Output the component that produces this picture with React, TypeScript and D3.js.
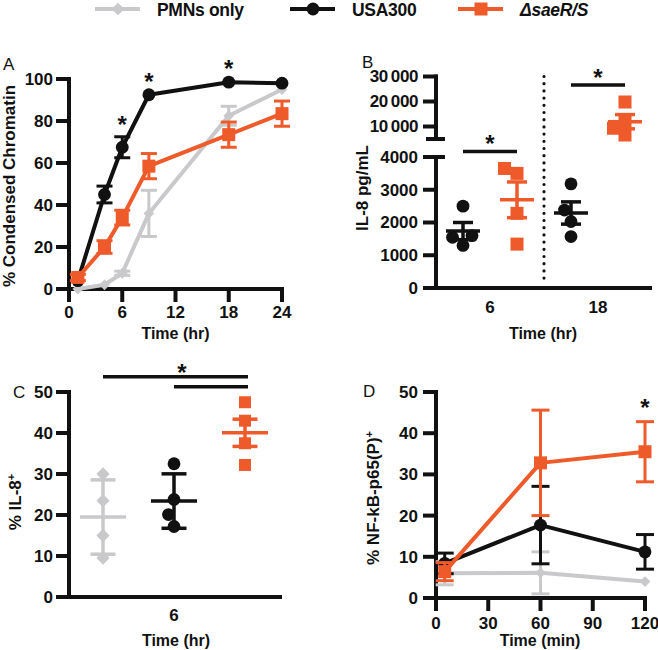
import React from "react";
import * as d3 from "d3";

// ---------- colours / fonts ----------
const ORANGE = "#ee5a2a";
const GRAY = "#c9c9cb";
const BLACK = "#111111";
const FONT = "'Liberation Sans', Arial, Helvetica, sans-serif";

// ---------- legend ----------
const seriesKeys = ["pmn", "usa", "sae"];
const seriesNames = ["PMNs only", "USA300", "\u0394saeR/S"];

// ---------- panel A ----------
const timesA = [1, 4, 6, 9, 18, 24];
const pmnA = [0, 2, 7.5, 36, 82.5, 95];
const pmnErrA = [0, 0.5, 1, 11, 4.5, 0];
const usaA = [4, 45, 67.5, 92.5, 98.5, 98];
const usaErrA = [0, 4, 5, 0.5, 0.5, 0];
const saeA = [5.5, 20, 34, 58.5, 73.5, 83.5];
const saeErrA = [1.5, 3, 3.5, 6, 6, 6];
const starsA = [6, 9, 18];
const xTicksA = [0, 6, 12, 18, 24];
const yTicksA = [0, 20, 40, 60, 80, 100];

// ---------- panel B ----------
const timeLabelsB = ["6", "18"];
const b6Usa = [2500, 1550, 1300, 1600];
const b6Sae = [3500, 3650, 2280, 1340];
const b18Usa = [3180, 2380, 2030, 1570];
const b18Sae = [19800, 12000, 9300, 6600];
const yTicksBLow = [0, 1000, 2000, 3000, 4000];
const yTicksBHigh = [10000, 20000, 30000];

// ---------- panel C ----------
const cPmn = [30, 23.5, 15, 9.5];
const cUsa = [32.5, 23.8, 20.1, 17.2];
const cSae = [47.5, 43, 37.5, 32.2];
const cErrType = ["sd", "sd", "sem"];
const yTicksC = [0, 10, 20, 30, 40, 50];

// ---------- panel D ----------
const timesD = [5, 60, 120];
const pmnD = [6, 6.1, 4];
const pmnErrD = [2.8, 5.1, 0];
const usaD = [8.4, 17.7, 11.2];
const usaErrD = [2.5, 9.4, 4.2];
const saeD = [6.4, 32.8, 35.5];
const saeErrD = [2.2, 12.8, 7.3];
const starsD = [120];
const xTicksD = [0, 30, 60, 90, 120];
const yTicksD = [0, 10, 20, 30, 40, 50];

// ---------- helpers ----------
const colorOf: Record<string, string> = { pmn: GRAY, usa: BLACK, sae: ORANGE };

function Marker({ kind, x, y, scale = 1 }: { kind: string; x: number; y: number; scale?: number }) {
  if (kind === "usa") {
    return <circle cx={x} cy={y} r={6.4 * scale} fill={BLACK} />;
  }
  if (kind === "sae") {
    const s = 13 * scale;
    return <rect x={x - s / 2} y={y - s / 2} width={s} height={s} fill={ORANGE} />;
  }
  const d = d3.symbol().type(d3.symbolSquare).size(80 * scale * scale)() as string;
  return <path d={d} transform={`translate(${x},${y}) rotate(45)`} fill={GRAY} />;
}

function ErrBar({ x, y0, y1, w, color, sw = 3 }: { x: number; y0: number; y1: number; w: number; color: string; sw?: number }) {
  return (
    <g stroke={color} strokeWidth={sw} fill="none">
      <line x1={x} x2={x} y1={y0} y2={y1} />
      <line x1={x - w} x2={x + w} y1={y0} y2={y0} />
      <line x1={x - w} x2={x + w} y1={y1} y2={y1} />
    </g>
  );
}

function Star({ x, y }: { x: number; y: number }) {
  const fs = 24;
  return (
    <text x={x} y={y + 0.58 * fs} fontSize={fs} fontWeight="bold" textAnchor="middle" fill={BLACK}>
      *
    </text>
  );
}

function dodge(ys: number[], minDist: number): number[] {
  const idx = ys.map((_, i) => i).sort((a, b) => ys[b] - ys[a]);
  const placed: { x: number; y: number }[] = [];
  const out = new Array(ys.length).fill(0);
  for (const i of idx) {
    let dx = 0;
    for (let k = 0; k < 400; k++) {
      const step = Math.ceil(k / 2) * 0.5;
      const cand = k === 0 ? 0 : k % 2 === 1 ? -step : step;
      if (placed.every((p) => Math.hypot(p.x - cand, p.y - ys[i]) >= minDist)) {
        dx = cand;
        break;
      }
    }
    placed.push({ x: dx, y: ys[i] });
    out[i] = dx;
  }
  return out;
}

const AX = 4; // axis stroke width
const TICK = 11;

function Legend() {
  const xs = [95, 290, 458];
  const y = 9;
  return (
    <g>
      {seriesKeys.map((k, i) => (
        <g key={k}>
          <line x1={xs[i]} x2={xs[i] + 45} y1={y} y2={y} stroke={colorOf[k]} strokeWidth={4} />
          <Marker kind={k} x={xs[i] + 23} y={y} />
          <text
            x={xs[i] + 62}
            y={15.5}
            fontSize={17.5}
            fontWeight="bold"
            fontStyle={k === "sae" ? "italic" : "normal"}
            fill={BLACK}
            letterSpacing={-0.3}
          >
            {seriesNames[i]}
          </text>
        </g>
      ))}
    </g>
  );
}

function PanelA() {
  const x = d3.scaleLinear().domain([0, 24]).range([69, 282]);
  const y = d3.scaleLinear().domain([0, 100]).range([289, 79]);
  const series = [
    { key: "pmn", v: pmnA, e: pmnErrA },
    { key: "usa", v: usaA, e: usaErrA },
    { key: "sae", v: saeA, e: saeErrA },
  ];
  const line = d3
    .line<number>()
    .x((_, i) => x(timesA[i]))
    .y((d) => y(d));
  return (
    <g>
      <text x={3} y={70} fontSize={17} fill={BLACK}>A</text>
      <g stroke={BLACK} strokeWidth={AX} strokeLinecap="square">
        <line x1={x(0)} x2={x(0)} y1={y(100)} y2={y(0)} />
        <line x1={x(0)} x2={x(24)} y1={y(0)} y2={y(0)} />
        {yTicksA.map((t) => (
          <line key={"yt" + t} x1={x(0) - TICK} x2={x(0)} y1={y(t)} y2={y(t)} />
        ))}
        {xTicksA.map((t) => (
          <line key={"xt" + t} x1={x(t)} x2={x(t)} y1={y(0)} y2={y(0) + TICK} />
        ))}
      </g>
      {yTicksA.map((t) => (
        <text key={"yl" + t} x={53} y={y(t)} dy="0.35em" fontSize={17} fontWeight="bold" textAnchor="end" fill={BLACK}>
          {t}
        </text>
      ))}
      {xTicksA.map((t) => (
        <text key={"xl" + t} x={x(t)} y={312} dy="0.35em" fontSize={17} fontWeight="bold" textAnchor="middle" fill={BLACK}>
          {t}
        </text>
      ))}
      <text x={x(12)} y={339} fontSize={16} fontWeight="bold" textAnchor="middle" fill={BLACK}>
        Time (hr)
      </text>
      <text transform="translate(9,186) rotate(-90)" dy="0.35em" fontSize={17} fontWeight="bold" textAnchor="middle" fill={BLACK}>
        % Condensed Chromatin
      </text>
      {series.map((s) => (
        <g key={s.key}>
          <path d={line(s.v) as string} fill="none" stroke={colorOf[s.key]} strokeWidth={4} strokeLinejoin="round" />
          {s.v.map((v, i) =>
            s.e[i] > 0.6 ? (
              <ErrBar key={i} x={x(timesA[i])} y0={y(v - s.e[i])} y1={y(v + s.e[i])} w={8} color={colorOf[s.key]} />
            ) : null
          )}
          {s.v.map((v, i) => (
            <Marker key={"m" + i} kind={s.key} x={x(timesA[i])} y={y(v)} scale={s.key === "pmn" ? 0.85 : 1} />
          ))}
        </g>
      ))}
      {starsA.map((t) => {
        const i = timesA.indexOf(t);
        const top = d3.max(series, (s) => s.v[i] + s.e[i]) as number;
        return <Star key={t} x={x(t)} y={y(top) - 18} />;
      })}
    </g>
  );
}

function PanelB() {
  const groups = [
    { time: "6", key: "usa", vals: b6Usa },
    { time: "6", key: "sae", vals: b6Sae },
    { time: "18", key: "usa", vals: b18Usa },
    { time: "18", key: "sae", vals: b18Sae },
  ];
  const x = d3
    .scalePoint<number>()
    .domain(groups.map((_, i) => i))
    .range([463, 625]);
  const yLow = d3.scaleLinear().domain([0, 4000]).range([288, 157]);
  const yHigh = d3.scaleLinear().domain([5000, 30000]).range([139, 76.5]);
  const y = (v: number) => (v <= 4000 ? yLow(v) : yHigh(v));
  const ax = 436;
  const fmt = (v: number) => (v >= 10000 ? d3.format(",")(v).replace(",", "\u2009") : String(v));
  const divX = ((x(1) as number) + (x(2) as number)) / 2;
  return (
    <g>
      <text x={362} y={68} fontSize={17} fill={BLACK}>B</text>
      <g stroke={BLACK} strokeWidth={AX} strokeLinecap="square">
        <line x1={ax} x2={ax} y1={yHigh(30000)} y2={yHigh(5000)} />
        <line x1={ax} x2={ax} y1={yLow(4000)} y2={yLow(0)} />
        <line x1={ax} x2={650} y1={yLow(0)} y2={yLow(0)} />
        {yTicksBLow.map((t) => (
          <line key={"l" + t} x1={ax - TICK} x2={ax} y1={yLow(t)} y2={yLow(t)} />
        ))}
        {yTicksBHigh.map((t) => (
          <line key={"h" + t} x1={ax - TICK} x2={ax} y1={yHigh(t)} y2={yHigh(t)} />
        ))}
        <line x1={ax - 8} x2={ax + 7} y1={yHigh(5000)} y2={yHigh(5000)} />
        <line x1={ax - 8} x2={ax + 7} y1={yLow(4000)} y2={yLow(4000)} />
      </g>
      {yTicksBLow.map((t) => (
        <text key={"ll" + t} x={418} y={yLow(t)} dy="0.35em" fontSize={17} fontWeight="bold" textAnchor="end" fill={BLACK}>
          {fmt(t)}
        </text>
      ))}
      {yTicksBHigh.map((t) => (
        <text key={"hl" + t} x={418} y={yHigh(t)} dy="0.35em" fontSize={17} fontWeight="bold" textAnchor="end" fill={BLACK} letterSpacing={-0.4}>
          {fmt(t)}
        </text>
      ))}
      {timeLabelsB.map((lab, j) => (
        <text
          key={lab}
          x={((x(2 * j) as number) + (x(2 * j + 1) as number)) / 2}
          y={307}
          dy="0.35em"
          fontSize={17}
          fontWeight="bold"
          textAnchor="middle"
          fill={BLACK}
        >
          {lab}
        </text>
      ))}
      <text x={543} y={339} fontSize={16} fontWeight="bold" textAnchor="middle" fill={BLACK}>
        Time (hr)
      </text>
      <text transform="translate(362,188) rotate(-90)" dy="0.35em" fontSize={17} fontWeight="bold" textAnchor="middle" fill={BLACK}>
        IL-8 pg/mL
      </text>
      <line x1={divX} x2={divX} y1={yHigh(30000)} y2={yLow(0) - 3} stroke={BLACK} strokeWidth={3.2} strokeDasharray="0 7.2" strokeLinecap="round" />
      {groups.map((g, gi) => {
        const cx = x(gi) as number;
        const ys = g.vals.map(y);
        const off = dodge(ys, 13);
        const m = d3.mean(g.vals) as number;
        const sem = (d3.deviation(g.vals) as number) / Math.sqrt(g.vals.length);
        const c = colorOf[g.key];
        return (
          <g key={gi}>
            {g.vals.map((v, i) => (
              <Marker key={i} kind={g.key} x={cx + off[i]} y={ys[i]} />
            ))}
            <line x1={cx - 17} x2={cx + 17} y1={y(m)} y2={y(m)} stroke={c} strokeWidth={3.5} />
            <ErrBar x={cx} y0={y(m - sem)} y1={y(m + sem)} w={10} color={c} sw={3.5} />
          </g>
        );
      })}
      {timeLabelsB.map((lab, j) => {
        const a = groups[2 * j];
        const b = groups[2 * j + 1];
        const topPx = d3.min([...a.vals, ...b.vals].map(y)) as number;
        const ly = topPx - 17;
        const x1 = x(2 * j) as number;
        const x2 = x(2 * j + 1) as number;
        return (
          <g key={"sig" + lab}>
            <line x1={x1} x2={x2} y1={ly} y2={ly} stroke={BLACK} strokeWidth={3.5} />
            <Star x={(x1 + x2) / 2} y={ly - 13} />
          </g>
        );
      })}
    </g>
  );
}

function PanelC() {
  const groups = [
    { key: "pmn", vals: cPmn },
    { key: "usa", vals: cUsa },
    { key: "sae", vals: cSae },
  ];
  const x = d3
    .scalePoint<number>()
    .domain(groups.map((_, i) => i))
    .range([103, 245]);
  const y = d3.scaleLinear().domain([0, 50]).range([597, 392]);
  const ax = 69;
  const topPx = d3.min(groups.flatMap((g) => g.vals).map(y)) as number;
  const l2 = topPx - 15.5;
  const l1 = l2 - 10;
  return (
    <g>
      <text x={13} y={398} fontSize={17} fill={BLACK}>C</text>
      <g stroke={BLACK} strokeWidth={AX} strokeLinecap="square">
        <line x1={ax} x2={ax} y1={y(50)} y2={y(0)} />
        <line x1={ax} x2={280} y1={y(0)} y2={y(0)} />
        {yTicksC.map((t) => (
          <line key={t} x1={ax - TICK} x2={ax} y1={y(t)} y2={y(t)} />
        ))}
      </g>
      {yTicksC.map((t) => (
        <text key={"l" + t} x={53} y={y(t)} dy="0.35em" fontSize={17} fontWeight="bold" textAnchor="end" fill={BLACK}>
          {t}
        </text>
      ))}
      <text x={x(1)} y={615} dy="0.35em" fontSize={17} fontWeight="bold" textAnchor="middle" fill={BLACK}>
        6
      </text>
      <text x={176} y={646} fontSize={16} fontWeight="bold" textAnchor="middle" fill={BLACK}>
        Time (hr)
      </text>
      <text transform="translate(15,502) rotate(-90)" dy="0.35em" fontSize={17} fontWeight="bold" textAnchor="middle" fill={BLACK}>
        % IL-8<tspan fontSize={11} dy="-6">+</tspan>
      </text>
      {groups.map((g, gi) => {
        const cx = x(gi) as number;
        const ys = g.vals.map(y);
        const off = dodge(ys, 13);
        const m = d3.mean(g.vals) as number;
        const sd = d3.deviation(g.vals) as number;
        const e = cErrType[gi] === "sem" ? sd / Math.sqrt(g.vals.length) : sd;
        const c = colorOf[g.key];
        return (
          <g key={gi}>
            {g.vals.map((v, i) => (
              <Marker key={i} kind={g.key} x={cx + off[i]} y={ys[i]} scale={g.key === "pmn" ? 1.05 : g.key === "sae" ? 0.92 : 1} />
            ))}
            <line x1={cx - 23} x2={cx + 23} y1={y(m)} y2={y(m)} stroke={c} strokeWidth={3.5} />
            <ErrBar x={cx} y0={y(m - e)} y1={y(m + e)} w={12.5} color={c} sw={3.5} />
          </g>
        );
      })}
      <g stroke={BLACK} strokeWidth={3.5}>
        <line x1={x(0) as number} x2={(x(2) as number) + 3} y1={l1} y2={l1} />
        <line x1={x(1) as number} x2={(x(2) as number) + 3} y1={l2} y2={l2} />
      </g>
      <Star x={182} y={l1 - 10} />
    </g>
  );
}

function PanelD() {
  const x = d3.scaleLinear().domain([0, 120]).range([436, 645]);
  const y = d3.scaleLinear().domain([0, 50]).range([598, 392]);
  const series = [
    { key: "pmn", v: pmnD, e: pmnErrD },
    { key: "usa", v: usaD, e: usaErrD },
    { key: "sae", v: saeD, e: saeErrD },
  ];
  const line = d3
    .line<number>()
    .x((_, i) => x(timesD[i]))
    .y((d) => y(d));
  return (
    <g>
      <text x={363} y={397} fontSize={17} fill={BLACK}>D</text>
      <g stroke={BLACK} strokeWidth={AX} strokeLinecap="square">
        <line x1={x(0)} x2={x(0)} y1={y(50)} y2={y(0)} />
        <line x1={x(0)} x2={x(120)} y1={y(0)} y2={y(0)} />
        {yTicksD.map((t) => (
          <line key={"yt" + t} x1={x(0) - TICK} x2={x(0)} y1={y(t)} y2={y(t)} />
        ))}
        {xTicksD.map((t) => (
          <line key={"xt" + t} x1={x(t)} x2={x(t)} y1={y(0)} y2={y(0) + TICK} />
        ))}
      </g>
      {yTicksD.map((t) => (
        <text key={"yl" + t} x={418} y={y(t)} dy="0.35em" fontSize={17} fontWeight="bold" textAnchor="end" fill={BLACK}>
          {t}
        </text>
      ))}
      {xTicksD.map((t) => (
        <text key={"xl" + t} x={x(t)} y={623} dy="0.35em" fontSize={17} fontWeight="bold" textAnchor="middle" fill={BLACK}>
          {t}
        </text>
      ))}
      <text x={540} y={646} fontSize={16} fontWeight="bold" textAnchor="middle" fill={BLACK}>
        Time (min)
      </text>
      <text transform="translate(373,498) rotate(-90)" dy="0.35em" fontSize={17} fontWeight="bold" textAnchor="middle" fill={BLACK}>
        % NF-kB-p65(P)<tspan fontSize={11} dy="-6">+</tspan>
      </text>
      {series.map((s) => (
        <g key={s.key}>
          <path d={line(s.v) as string} fill="none" stroke={colorOf[s.key]} strokeWidth={4} strokeLinejoin="round" />
          {s.v.map((v, i) =>
            s.e[i] > 0.6 ? (
              <ErrBar key={i} x={x(timesD[i])} y0={y(v - s.e[i])} y1={y(v + s.e[i])} w={9} color={colorOf[s.key]} />
            ) : null
          )}
          {s.v.map((v, i) => (
            <Marker key={"m" + i} kind={s.key} x={x(timesD[i])} y={y(v)} scale={s.key === "pmn" ? 0.85 : 1} />
          ))}
        </g>
      ))}
      {starsD.map((t) => {
        const i = timesD.indexOf(t);
        const top = d3.max(series, (s) => s.v[i] + s.e[i]) as number;
        return <Star key={t} x={x(t)} y={y(top) - 20} />;
      })}
    </g>
  );
}

export default function App() {
  return (
    <svg
      width={658}
      height={650}
      style={{ position: "absolute", left: 0, top: 0, background: "#fff" }}
      fontFamily={FONT}
    >
      <rect width={658} height={650} fill="#fff" />
      <Legend />
      <PanelA />
      <PanelB />
      <PanelC />
      <PanelD />
    </svg>
  );
}
